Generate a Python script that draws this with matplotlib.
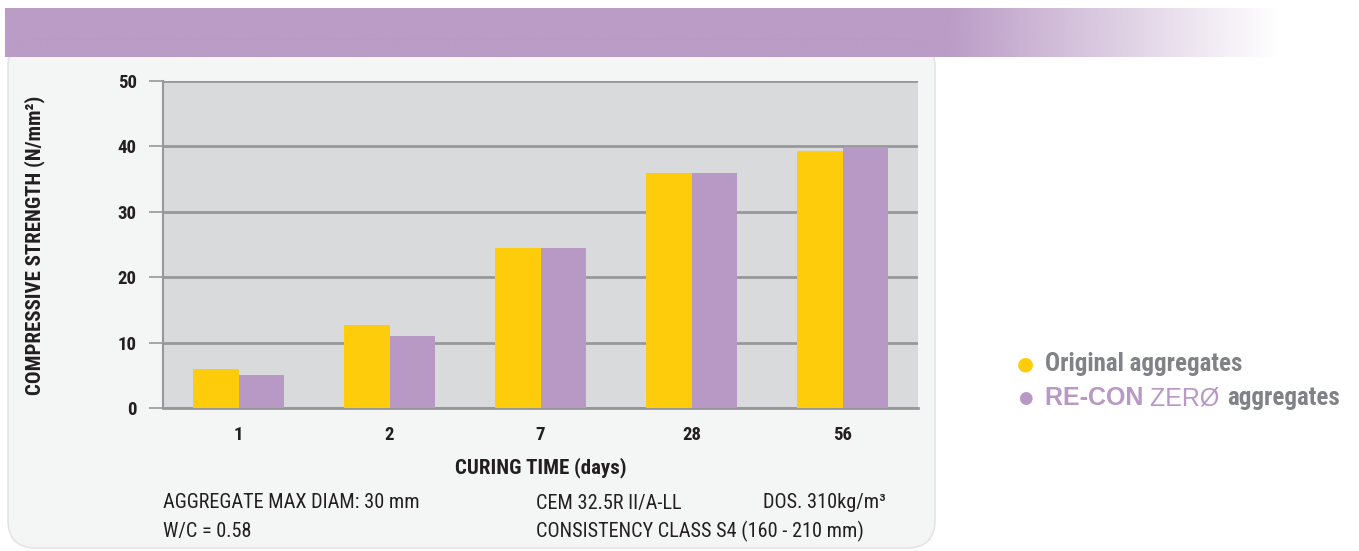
import numpy as np
import matplotlib.pyplot as plt
from matplotlib.patches import FancyBboxPatch

plt.rcParams['font.family'] = ['Liberation Sans Narrow', 'DejaVu Sans Condensed',
                               'Roboto Condensed', 'Liberation Sans', 'DejaVu Sans']

# compressive strength by curing time
days = ['1', '2', '7', '28', '56']
original = [5.9, 12.7, 24.5, 35.9, 39.3]
recon = [5.0, 11.0, 24.5, 35.9, 39.9]

yellow = '#fecc0a'
purple = '#b898c4'
grid_col = '#98989c'
text_col = '#231f20'
legend_grey = '#808285'

fig = plt.figure(figsize=(13.59, 5.51), dpi=100)
fig.patch.set_facecolor('white')

# page decoration: rounded panel + purple header band fading out to the right
bg = fig.add_axes([0, 0, 1, 1], zorder=-5)
bg.set_xlim(0, 1359)
bg.set_ylim(551, 0)
bg.axis('off')
panel = FancyBboxPatch((8, 39), 927, 509, boxstyle='round,pad=0,rounding_size=28',
                       facecolor='#f4f5f5', edgecolor='#e4e4e6', linewidth=1.2)
bg.add_patch(panel)
grad = np.ones((1, 400, 4))
grad[..., :3] = np.array([0xb8, 0x98, 0xc4]) / 255
xs = np.linspace(5, 1280, 400)
grad[0, :, 3] = np.clip(1 - (xs - 950) / 330, 0, 1) * 0.96
bg.imshow(grad, extent=(5, 1280, 57, 8), aspect='auto', interpolation='bilinear', zorder=3)

ax = fig.add_axes([163 / 1359, 1 - 408 / 551, 755 / 1359, 327 / 551])
ax.set_facecolor('#d9dadb')
x = np.arange(len(days))
w = 0.3
ax.bar(x - w / 2, original, w, color=yellow, zorder=3)
ax.bar(x + w / 2, recon, w, color=purple, zorder=3)

ax.set_xlim(-0.5, len(days) - 0.5)
ax.set_ylim(0, 50)
ax.set_yticks(range(0, 51, 10))
ax.yaxis.grid(True, color=grid_col, linewidth=2, zorder=1)
ax.set_xticks(x)
ax.set_xticklabels(days)
ax.tick_params(axis='x', length=0, pad=13, labelsize=13.5, labelcolor=text_col)
ax.tick_params(axis='y', length=10, width=1.2, color=grid_col, pad=9,
               labelsize=13.5, labelcolor=text_col)
for t in ax.get_xticklabels() + ax.get_yticklabels():
    t.set_fontweight('bold')
for s in ['top', 'right']:
    ax.spines[s].set_visible(False)
ax.spines['left'].set_color(grid_col)
ax.spines['left'].set_linewidth(1.5)
ax.spines['bottom'].set_color(grid_col)
ax.spines['bottom'].set_linewidth(2)

ax.set_ylabel('COMPRESSIVE STRENGTH (N/mm²)', fontsize=15, fontweight='bold',
              color=text_col)
ax.yaxis.set_label_coords(35 / 1359, 1 - 245 / 551, transform=fig.transFigure)
ax.set_xlabel('CURING TIME (days)', fontsize=15, fontweight='bold', color=text_col)
ax.xaxis.set_label_coords(541 / 1359, 1 - 468 / 551, transform=fig.transFigure)
ax.xaxis.label.set_va('center')
ax.yaxis.label.set_va('center')

# test conditions under the chart
notes = dict(fontsize=14.6, color=text_col, va='center')
fig.text(163 / 1359, 1 - 503 / 551, 'AGGREGATE MAX DIAM: 30 mm', **notes)
fig.text(163 / 1359, 1 - 531 / 551, 'W/C = 0.58', **notes)
fig.text(536 / 1359, 1 - 503 / 551, 'CEM 32.5R II/A-LL', **notes)
fig.text(763 / 1359, 1 - 503 / 551, 'DOS. 310kg/m³', **notes)
fig.text(536 / 1359, 1 - 531 / 551, 'CONSISTENCY CLASS S4 (160 - 210 mm)', **notes)

# legend built from text pieces
fig.canvas.draw()
renderer = fig.canvas.get_renderer()


def legend_row(y, dot_color, dot_size, parts):
    fig.text(1025 / 1359, 1 - y / 551, '●', color=dot_color, fontsize=dot_size,
             va='center', ha='center', family='DejaVu Sans')
    xpos = 1045 / 1359
    for txt, col, weight, fam in parts:
        t = fig.text(xpos, 1 - y / 551, txt, color=col, fontsize=18,
                     fontweight=weight, va='center')
        if fam:
            t.set_family(fam)
        bb = t.get_window_extent(renderer)
        xpos += bb.width / fig.bbox.width


wide = ['Liberation Sans', 'DejaVu Sans']
legend_row(364, yellow, 14, [('Original aggregates', legend_grey, 'bold', None)])
legend_row(398, purple, 12, [('RE-CON ', purple, 'bold', wide),
                             ('ZERØ ', purple, 'normal', wide),
                             ('aggregates', legend_grey, 'bold', None)])

fig.savefig('out.png', dpi=100)
